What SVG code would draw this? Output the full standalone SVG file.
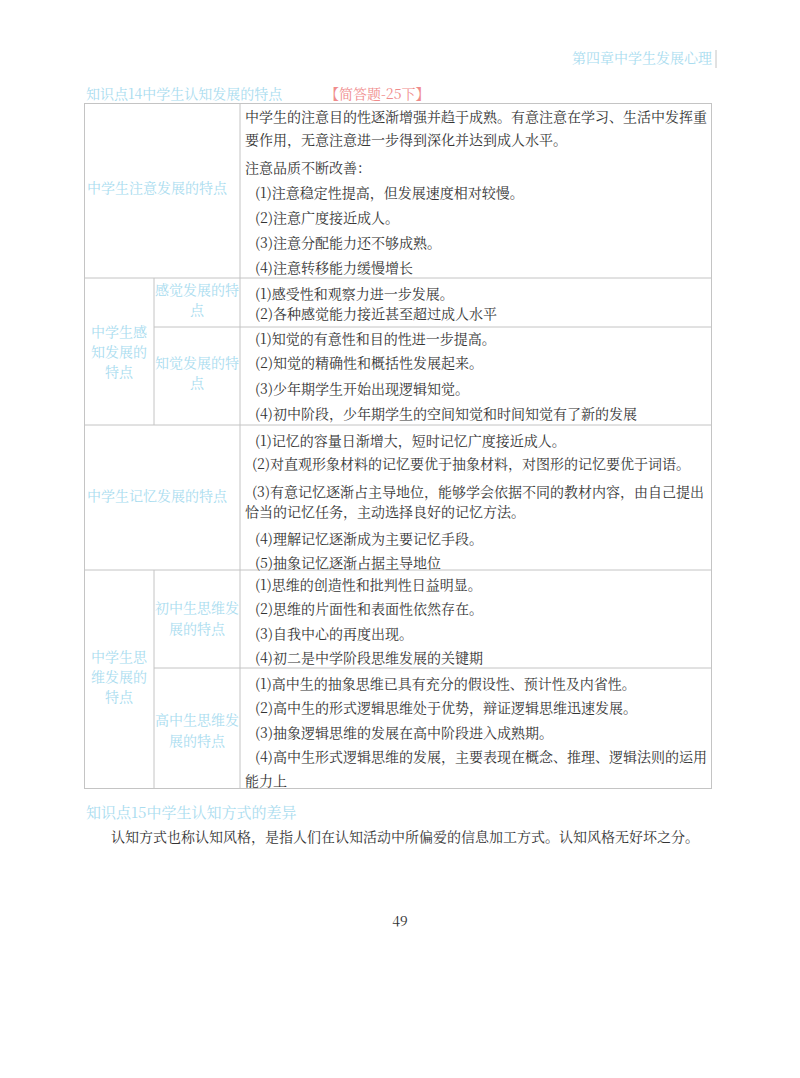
<svg xmlns="http://www.w3.org/2000/svg" width="800" height="1078" viewBox="0 0 800 1078">
<style>
text{font-family:"Noto Serif CJK SC","Noto Sans CJK SC",serif;font-size:14px;fill:#333}
.lb{fill:#a9dcef}
.pk{fill:#f08c8c}
.c{text-anchor:middle}
.ln{stroke:#c4c4c4;stroke-width:1;fill:none}
</style>
<rect width="800" height="1078" fill="#fff"/>
<text class="lb" x="712" y="63" text-anchor="end">第四章中学生发展心理</text>
<line class="ln" x1="716" y1="50" x2="716" y2="68"/>
<g id="title14"><text class="lb" x="86" y="99">知识点14中学生认知发展的特点</text><text class="pk" x="325" y="99">【简答题-25下】</text></g>
<g id="grid">
<rect class="ln" x="84.5" y="103.5" width="627" height="685"/>
<line class="ln" x1="240" y1="103" x2="240" y2="788"/>
<line class="ln" x1="154" y1="278" x2="154" y2="425"/>
<line class="ln" x1="154" y1="570" x2="154" y2="788"/>
<line class="ln" x1="84" y1="278" x2="711" y2="278"/>
<line class="ln" x1="154" y1="327" x2="711" y2="327"/>
<line class="ln" x1="84" y1="425" x2="711" y2="425"/>
<line class="ln" x1="84" y1="570" x2="711" y2="570"/>
<line class="ln" x1="154" y1="668" x2="711" y2="668"/>
</g>
<g id="attention">
<text class="lb" x="87" y="193">中学生注意发展的特点</text>
<text x="245" y="122">中学生的注意目的性逐渐增强并趋于成熟。有意注意在学习、生活中发挥重</text>
<text x="245" y="145">要作用，无意注意进一步得到深化并达到成人水平。</text>
<text x="245" y="173">注意品质不断改善：</text>
<text x="255" y="198">(1)注意稳定性提高，但发展速度相对较慢。</text>
<text x="255" y="223">(2)注意广度接近成人。</text>
<text x="255" y="248">(3)注意分配能力还不够成熟。</text>
<text x="255" y="273">(4)注意转移能力缓慢增长</text>
</g>
<g id="perception">
<text class="lb c" x="119" y="337">中学生感</text><text class="lb c" x="119" y="357">知发展的</text><text class="lb c" x="119" y="377">特点</text>
<text class="lb c" x="197" y="295">感觉发展的特</text><text class="lb c" x="197" y="315">点</text>
<text x="255" y="299">(1)感受性和观察力进一步发展。</text>
<text x="255" y="319">(2)各种感觉能力接近甚至超过成人水平</text>
<text class="lb c" x="197" y="368">知觉发展的特</text><text class="lb c" x="197" y="388">点</text>
<text x="255" y="344">(1)知觉的有意性和目的性进一步提高。</text>
<text x="255" y="368">(2)知觉的精确性和概括性发展起来。</text>
<text x="255" y="394">(3)少年期学生开始出现逻辑知觉。</text>
<text x="255" y="419">(4)初中阶段，少年期学生的空间知觉和时间知觉有了新的发展</text>
</g>
<g id="memory">
<text class="lb" x="87" y="501">中学生记忆发展的特点</text>
<text x="255" y="446">(1)记忆的容量日渐增大，短时记忆广度接近成人。</text>
<text x="252" y="469">(2)对直观形象材料的记忆要优于抽象材料，对图形的记忆要优于词语。</text>
<text x="252" y="497">(3)有意记忆逐渐占主导地位，能够学会依据不同的教材内容，由自己提出</text>
<text x="245" y="517">恰当的记忆任务，主动选择良好的记忆方法。</text>
<text x="255" y="544">(4)理解记忆逐渐成为主要记忆手段。</text>
<text x="255" y="568">(5)抽象记忆逐渐占据主导地位</text>
</g>
<g id="thinking">
<text class="lb c" x="119" y="662">中学生思</text><text class="lb c" x="119" y="682">维发展的</text><text class="lb c" x="119" y="702">特点</text>
<text class="lb c" x="197" y="613">初中生思维发</text><text class="lb c" x="197" y="634">展的特点</text>
<text x="255" y="590">(1)思维的创造性和批判性日益明显。</text>
<text x="255" y="614">(2)思维的片面性和表面性依然存在。</text>
<text x="255" y="639">(3)自我中心的再度出现。</text>
<text x="255" y="663">(4)初二是中学阶段思维发展的关键期</text>
<text class="lb c" x="197" y="725">高中生思维发</text><text class="lb c" x="197" y="746">展的特点</text>
<text x="255" y="689">(1)高中生的抽象思维已具有充分的假设性、预计性及内省性。</text>
<text x="255" y="713">(2)高中生的形式逻辑思维处于优势，辩证逻辑思维迅速发展。</text>
<text x="255" y="738">(3)抽象逻辑思维的发展在高中阶段进入成熟期。</text>
<text x="255" y="762">(4)高中生形式逻辑思维的发展，主要表现在概念、推理、逻辑法则的运用</text>
<text x="245" y="786">能力上</text>
</g>
<g id="title15">
<text class="lb" x="86" y="818" style="font-size:15px">知识点15中学生认知方式的差异</text>
<text x="111" y="842">认知方式也称认知风格，是指人们在认知活动中所偏爱的信息加工方式。认知风格无好坏之分。</text>
</g>
<text class="c" x="400" y="926">49</text>
</svg>
